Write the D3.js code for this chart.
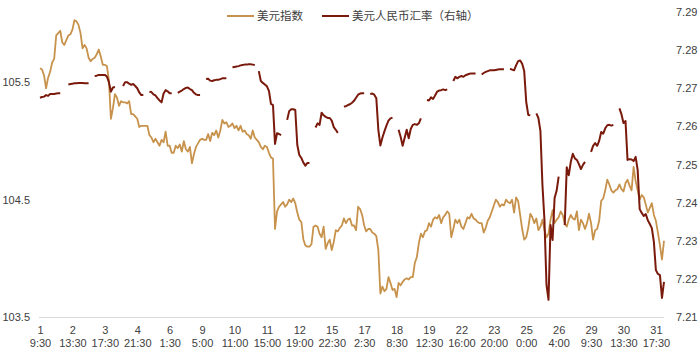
<!DOCTYPE html>
<html>
<head>
<meta charset="utf-8">
<script src="https://cdn.jsdelivr.net/npm/d3@7"></script>
<style>
  body { margin: 0; background: #fff; }
  svg text { font-family: "Liberation Sans", Arial, sans-serif; fill: #404040; }
  .legend text { font-family: "Noto Sans CJK SC", sans-serif; }
</style>
</head>
<body>
<div id="chart"></div>
<script>
// x-axis tick labels (day, time); one label every 16 points
var days  = ["1", "2", "3", "4", "6", "9", "10", "11", "12", "15", "17", "18", "19", "22", "23", "25", "26", "29", "30", "31"];
var times = ["9:30", "13:30", "17:30", "21:30", "1:30", "5:00", "11:00", "15:00", "19:00", "22:30", "2:30", "8:30", "12:30", "16:00", "20:00", "0:00", "4:00", "9:30", "13:30", "17:30"];
var labelStep = 16;

var seriesNames = ["美元指数", "美元人民币汇率（右轴）"];

// 美元指数 (left axis)
var dxy = [
  105.62,105.61,105.56,105.45,105.54,105.59,105.67,105.70,105.90,105.92,105.94,105.84,105.82,105.86,105.90,105.91,
  105.95,106.03,106.02,105.99,105.92,105.79,105.82,105.79,105.71,105.68,105.70,105.71,105.74,105.78,105.72,105.65,
  105.65,105.64,105.52,105.19,105.28,105.40,105.37,105.30,105.34,105.33,105.33,105.32,105.34,105.23,105.23,105.21,
  105.19,105.12,105.13,105.13,105.13,105.13,105.05,105.03,104.99,105.02,104.99,104.96,105.01,104.99,105.08,104.96,
  104.96,104.90,104.90,104.96,104.94,104.97,104.91,105.00,104.93,104.91,104.95,104.81,104.89,104.95,104.98,105.01,
  105.02,105.01,105.01,105.06,105.00,105.07,105.05,105.09,105.03,105.09,105.18,105.15,105.16,105.12,105.13,105.15,
  105.11,105.13,105.09,105.13,105.08,105.09,105.06,105.05,105.02,105.09,105.03,105.01,104.99,104.95,104.93,104.96,
  104.95,104.90,104.86,104.85,104.25,104.40,104.44,104.46,104.48,104.44,104.46,104.50,104.48,104.51,104.47,104.39,
  104.33,104.31,104.16,104.11,104.10,104.10,104.12,104.27,104.28,104.27,104.21,104.18,104.27,104.08,104.13,104.16,
  104.07,104.14,104.24,104.23,104.26,104.28,104.34,104.30,104.33,104.34,104.28,104.28,104.24,104.44,104.42,104.37,
  104.28,104.23,104.25,104.25,104.22,104.21,104.19,104.07,103.70,103.76,103.72,103.74,103.84,103.79,103.73,103.74,
  103.67,103.79,103.77,103.80,103.82,103.83,103.82,103.84,103.84,103.96,104.01,104.13,104.21,104.18,104.23,104.24,
  104.30,104.27,104.33,104.35,104.34,104.37,104.30,104.35,104.37,104.40,104.38,104.18,104.25,104.33,104.30,104.33,
  104.27,104.25,104.30,104.35,104.34,104.38,104.34,104.33,104.31,104.30,104.30,104.22,104.26,104.32,104.35,104.40,
  104.45,104.50,104.48,104.44,104.46,104.45,104.50,104.48,104.47,104.50,104.39,104.52,104.49,104.37,104.25,104.16,
  104.18,104.26,104.38,104.35,104.30,104.34,104.24,104.27,104.33,104.24,104.18,104.21,104.33,104.41,104.30,104.33,
  104.35,104.40,104.37,104.30,104.27,104.33,104.37,104.34,104.33,104.40,104.24,104.33,104.30,104.25,104.30,104.38,
  104.30,104.16,104.24,104.25,104.32,104.49,104.51,104.58,104.67,104.63,104.58,104.56,104.58,104.59,104.63,104.59,
  104.57,104.64,104.67,104.62,104.58,104.78,104.66,104.58,104.50,104.54,104.52,104.46,104.39,104.43,104.47,104.37,
  104.32,104.22,104.11,103.99,104.15
];

// 美元人民币汇率 (right axis), null = no quote
var cny = [
  7.2675,7.2677,7.2678,7.2682,7.2680,7.2685,7.2685,7.2685,7.2686,7.2687,7.2687,null,null,null,7.2710,7.2711,
  7.2712,7.2713,7.2713,7.2714,7.2714,7.2714,7.2713,7.2713,7.2713,null,null,7.2732,7.2733,7.2735,7.2735,7.2735,
  7.2735,7.2731,7.2716,7.2691,7.2702,7.2703,null,null,null,7.2706,7.2716,7.2716,7.2712,7.2709,7.2711,7.2706,
  7.2700,7.2689,7.2682,7.2682,null,null,7.2691,7.2690,7.2684,7.2681,7.2674,7.2668,7.2663,7.2686,7.2695,7.2692,
  7.2687,7.2687,null,null,7.2688,7.2691,7.2694,7.2698,7.2701,7.2702,7.2698,7.2695,7.2688,7.2684,7.2682,7.2682,
  null,null,7.2724,7.2725,7.2720,7.2719,7.2721,7.2722,7.2722,7.2724,7.2726,7.2726,7.2726,null,null,7.2755,
  7.2756,7.2757,7.2758,7.2760,7.2761,7.2762,7.2762,7.2763,7.2763,7.2762,7.2761,null,7.2745,7.2719,7.2714,7.2710,
  7.2705,7.2693,7.2659,7.2656,7.2554,7.2582,7.2580,7.2577,null,null,7.2617,7.2640,7.2645,7.2645,7.2643,7.2551,
  7.2525,7.2517,7.2505,7.2497,7.2504,7.2504,null,null,7.2597,7.2608,7.2604,7.2636,7.2629,7.2625,7.2622,7.2622,
  7.2615,7.2598,7.2591,7.2583,null,null,7.2652,7.2653,7.2656,7.2658,7.2662,7.2667,7.2675,7.2683,7.2686,7.2687,
  7.2687,null,null,7.2685,7.2686,7.2683,7.2674,7.2591,7.2550,7.2570,7.2587,7.2602,7.2615,7.2621,7.2623,null,
  null,7.2591,7.2573,7.2549,7.2570,7.2591,7.2569,7.2593,7.2604,7.2606,7.2604,7.2608,7.2621,null,null,7.2669,
  7.2668,7.2676,7.2672,7.2681,7.2691,7.2694,7.2695,7.2697,7.2695,7.2697,null,null,7.2719,7.2730,7.2726,7.2730,
  7.2732,7.2730,7.2734,7.2736,7.2738,7.2739,7.2739,7.2739,null,null,7.2736,7.2740,7.2743,7.2745,7.2747,7.2747,
  7.2747,7.2748,7.2749,7.2750,7.2750,7.2750,null,null,7.2751,7.2749,7.2747,7.2760,7.2771,7.2773,7.2764,7.2745,
  7.2664,7.2630,7.2629,null,null,7.2634,7.2622,7.2588,7.2446,7.2354,7.2184,7.2145,7.2341,7.2302,7.2412,7.2431,
  7.2468,null,null,7.2341,7.2493,7.2472,7.2507,7.2528,7.2516,7.2512,7.2501,7.2488,7.2499,7.2507,null,null,
  7.2533,7.2549,7.2556,7.2549,7.2562,7.2585,7.2581,7.2595,7.2603,7.2604,7.2602,7.2604,null,null,7.2647,7.2632,
  7.2609,7.2614,7.2512,7.2514,7.2513,7.2509,7.2520,7.2486,7.2383,7.2373,7.2365,7.2370,7.2354,7.2344,7.2333,7.2297,
  7.2223,7.2213,7.2210,7.2150,7.2192
];

var leftTicks = [103.5, 104.5, 105.5];
var rightTicks = [7.21, 7.22, 7.23, 7.24, 7.25, 7.26, 7.27, 7.28, 7.29];

var width = 700, height = 352;
var gold = "#c7924b", maroon = "#7a1a0c";

var svg = d3.select("#chart").append("svg")
  .attr("width", width)
  .attr("height", height);

var x = d3.scaleLinear().domain([0, dxy.length - 1]).range([40, 664]);
var yL = d3.scaleLinear().domain([103.5, 106.1]).range([317, 12]);
var yR = d3.scaleLinear().domain([7.21, 7.29]).range([317, 12]);

// baseline
svg.append("line")
  .attr("x1", 39).attr("x2", 664)
  .attr("y1", 317.5).attr("y2", 317.5)
  .attr("stroke", "#d9d9d9").attr("stroke-width", 1);

// left axis
var gl = svg.append("g")
  .attr("transform", "translate(30,0)")
  .call(d3.axisLeft(yL).tickValues(leftTicks).tickFormat(d3.format(".1f")).tickSize(0).tickPadding(0));
gl.select(".domain").remove();
gl.selectAll("text").attr("font-size", 11).attr("font-family", null);

// right axis
var gr = svg.append("g")
  .attr("transform", "translate(676,0)")
  .call(d3.axisRight(yR).tickValues(rightTicks).tickFormat(d3.format(".2f")).tickSize(0).tickPadding(0));
gr.select(".domain").remove();
gr.selectAll("text").attr("font-size", 11).attr("font-family", null);

// bottom axis, two-line labels
var tickIdx = days.map(function(d, i) { return i * labelStep; });
var gb = svg.append("g")
  .attr("transform", "translate(0,317)")
  .call(d3.axisBottom(x).tickValues(tickIdx).tickSize(0).tickFormat(""));
gb.select(".domain").remove();
gb.selectAll(".tick text").each(function(d, i) {
  var t = d3.select(this).attr("font-size", 11).attr("font-family", null).attr("dy", null).attr("y", 0);
  t.append("tspan").attr("x", 0).attr("y", 17).text(days[i]);
  t.append("tspan").attr("x", 0).attr("y", 30).text(times[i]);
});

// lines
var lineL = d3.line()
  .x(function(d, i) { return x(i); })
  .y(function(d) { return yL(d); });

var lineR = d3.line()
  .defined(function(d) { return d != null; })
  .x(function(d, i) { return x(i); })
  .y(function(d) { return yR(d); });

svg.append("path")
  .datum(dxy)
  .attr("d", lineL)
  .attr("fill", "none")
  .attr("stroke", gold)
  .attr("stroke-width", 1.8)
  .attr("stroke-linejoin", "round");

svg.append("path")
  .datum(cny)
  .attr("d", lineR)
  .attr("fill", "none")
  .attr("stroke", maroon)
  .attr("stroke-width", 2)
  .attr("stroke-linejoin", "round");

// legend
var legend = svg.append("g").attr("class", "legend");
var legendItems = [
  { name: seriesNames[0], color: gold, x: 227 },
  { name: seriesNames[1], color: maroon, x: 322 }
];
legendItems.forEach(function(d) {
  legend.append("line")
    .attr("x1", d.x).attr("x2", d.x + 27)
    .attr("y1", 16).attr("y2", 16)
    .attr("stroke", d.color).attr("stroke-width", 2);
  legend.append("text")
    .attr("x", d.x + 30).attr("y", 20)
    .attr("font-size", 11.5)
    .text(d.name);
});
</script>
</body>
</html>
